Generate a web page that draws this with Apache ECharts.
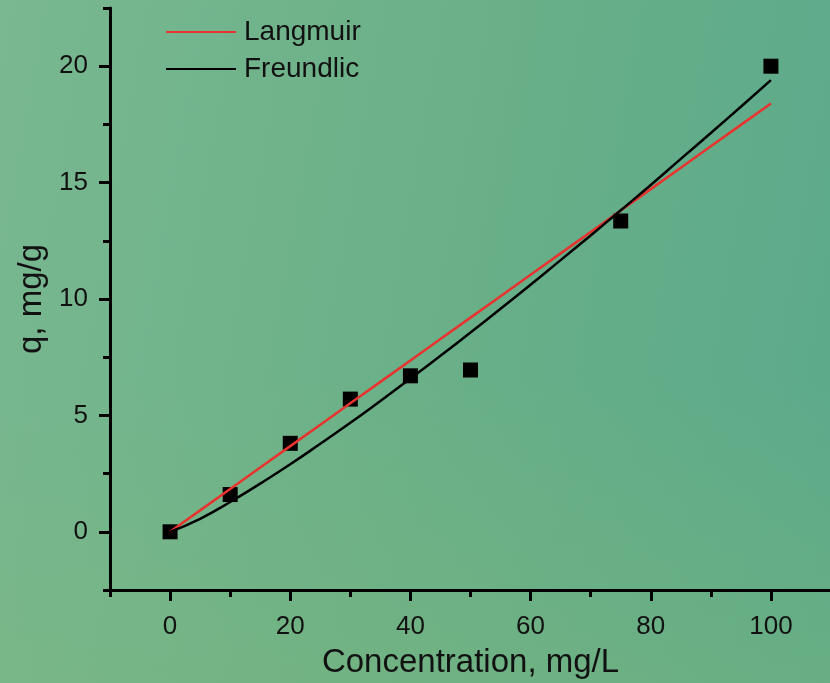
<!DOCTYPE html>
<html>
<head>
<meta charset="utf-8">
<title>Adsorption isotherm</title>
<script src="https://cdn.jsdelivr.net/npm/echarts@6/dist/echarts.min.js"></script>
<style>
  html, body { margin: 0; padding: 0; }
  body {
    width: 830px; height: 683px; overflow: hidden;
    background:
      linear-gradient(to bottom, rgba(0,0,0,0) 55%, rgba(128,184,120,0.35) 100%),
      linear-gradient(100deg, #79b891 0%, #6ab088 50%, #5ba98b 100%);
  }
  #chart { width: 830px; height: 683px; }
</style>
</head>
<body>
<div id="chart"></div>
<script>
// Measured equilibrium uptake
const concentration = [0, 10, 20, 30, 40, 50, 75, 100];
const uptake = [0, 1.6, 3.8, 5.7, 6.7, 6.95, 13.35, 20.0];

// Fitted isotherm curves, sampled along concentration
const fitC = [0, 5, 10, 15, 20, 25, 30, 35, 40, 45, 50, 55, 60, 65, 70, 75, 80, 85, 90, 95, 100];
const langmuirQ = [0, 0.92, 1.84, 2.76, 3.68, 4.6, 5.52, 6.44, 7.36, 8.28, 9.2, 10.12, 11.04, 11.96, 12.88, 13.8, 14.72, 15.64, 16.56, 17.48, 18.4];
const freundlichQ = [0, 0.56, 1.28, 2.07, 2.9, 3.78, 4.68, 5.62, 6.58, 7.56, 8.56, 9.58, 10.61, 11.67, 12.73, 13.81, 14.9, 16.02, 17.13, 18.26, 19.4];

// Axis ticks
const xMajorTicks = [0, 20, 40, 60, 80, 100];
const yMajorTicks = [0, 5, 10, 15, 20];

const pairs = (xs, ys) => xs.map((x, i) => [x, ys[i]]);

const FONT = '"Liberation Sans", Arial, sans-serif';
const INK = '#111';

const chart = echarts.init(document.getElementById('chart'), null, { renderer: 'canvas' });

chart.setOption({
  backgroundColor: 'transparent',
  animation: false,
  grid: { left: 110, top: 8, width: 721, height: 582, containLabel: false, outerBoundsMode: 'none' },
  legend: {
    orient: 'vertical',
    left: 161,
    top: 13,
    itemWidth: 70,
    itemHeight: 2,
    itemGap: 9,
    icon: 'rect',
    data: ['Langmuir', 'Freundlic'],
    textStyle: { fontFamily: FONT, fontSize: 28, color: INK, padding: [0, 0, 0, 3] }
  },
  xAxis: [
    {
      type: 'value', min: -10, max: 110,
      name: 'Concentration, mg/L', nameLocation: 'middle', nameGap: 56,
      nameTextStyle: { fontFamily: FONT, fontSize: 33, color: INK },
      axisLine: { show: true, onZero: false, lineStyle: { color: '#000', width: 3 } },
      axisTick: { show: true, customValues: xMajorTicks, length: 11, lineStyle: { color: '#000', width: 3 } },
      axisLabel: { customValues: xMajorTicks, margin: 24, fontFamily: FONT, fontSize: 26, color: INK },
      splitLine: { show: false }
    },
    {
      // minor ticks halfway between labelled values
      type: 'value', min: -10, max: 110, interval: 20, position: 'bottom', gridIndex: 0,
      axisLine: { show: false, onZero: false },
      axisTick: { show: true, length: 7, lineStyle: { color: '#000', width: 3 } },
      axisLabel: { show: false },
      splitLine: { show: false }
    }
  ],
  yAxis: [
    {
      type: 'value', min: -2.5, max: 22.5,
      name: 'q, mg/g', nameLocation: 'middle', nameGap: 52,
      nameTextStyle: { fontFamily: FONT, fontSize: 33, color: INK },
      axisLine: { show: true, onZero: false, lineStyle: { color: '#000', width: 3 } },
      axisTick: { show: true, customValues: yMajorTicks, length: 11, lineStyle: { color: '#000', width: 3 } },
      axisLabel: { customValues: yMajorTicks, margin: 22, fontFamily: FONT, fontSize: 26, color: INK },
      splitLine: { show: false }
    },
    {
      type: 'value', min: -2.5, max: 22.5, interval: 5, position: 'left',
      axisLine: { show: false, onZero: false },
      axisTick: { show: true, length: 7, lineStyle: { color: '#000', width: 3 } },
      axisLabel: { show: false },
      splitLine: { show: false }
    }
  ],
  series: [
    {
      name: 'Data', type: 'scatter',
      data: pairs(concentration, uptake),
      symbol: 'rect', symbolSize: 15,
      itemStyle: { color: '#000', opacity: 1 },
      z: 2
    },
    {
      name: 'Langmuir', type: 'line',
      data: pairs(fitC, langmuirQ),
      showSymbol: false, symbol: 'none', smooth: false,
      lineStyle: { color: '#e8332e', width: 2.5 },
      itemStyle: { color: '#e8332e' },
      z: 3
    },
    {
      name: 'Freundlic', type: 'line',
      data: pairs(fitC, freundlichQ),
      showSymbol: false, symbol: 'none', smooth: true,
      lineStyle: { color: '#000', width: 2.5 },
      itemStyle: { color: '#000' },
      z: 3
    }
  ]
});
</script>
</body>
</html>
